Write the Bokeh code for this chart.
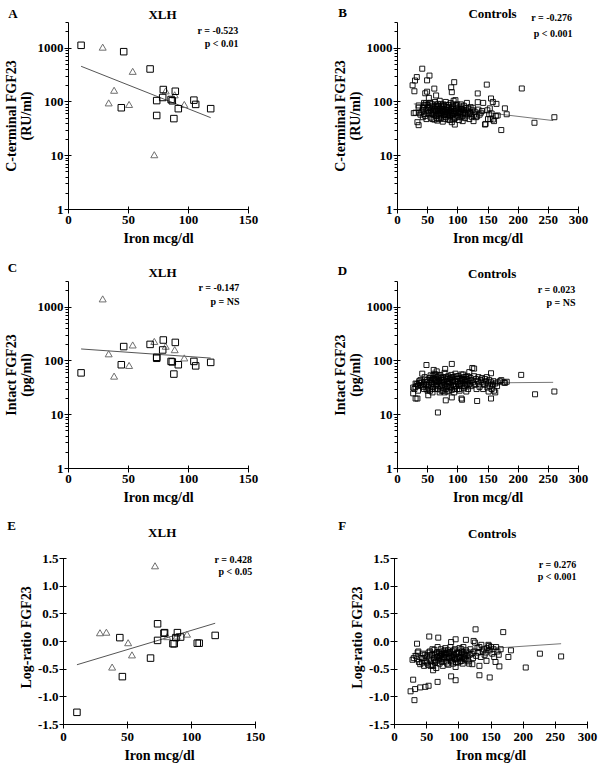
from bokeh.plotting import figure
from bokeh.layouts import column, row
from bokeh.models import Range1d, FixedTicker, Label, NumeralTickFormatter, BasicTickFormatter
from bokeh.embed import file_html
from bokeh.resources import INLINE

FONT = "Liberation Serif"

# ---------------- XLH patients (squares / triangles) ----------------
xlh_sq_iron = [10.5, 44, 46, 68, 73.5, 73.5, 78.5, 79, 85.5, 86.5, 87.8, 89, 91.5, 104.5, 106, 118.5]
xlh_sq_cterm = [1130, 78, 860, 410, 106, 56, 121, 170, 111, 105, 49, 158, 75, 108, 90, 75]
xlh_sq_intact = [60, 85, 185, 203, 112, 117, 160, 245, 98, 96, 57, 221, 85, 98, 81, 94]
xlh_sq_ratio = [-1.28, 0.07, -0.635, -0.30, 0.02, 0.32, 0.15, 0.16, -0.04, -0.04, 0.07, 0.16, 0.08, -0.03, -0.03, 0.11]

xlh_tr_iron = [28.5, 33.5, 38, 50.5, 53.5, 71.5, 81, 88.5, 96.5]
xlh_tr_cterm = [1000, 92, 158, 86, 355, 10, 154, 130, 86]
xlh_tr_intact = [1365, 130, 50, 79, 190, 221, 180, 155, 109]
xlh_tr_ratio = [0.14, 0.15, -0.48, -0.04, -0.26, 1.35, 0.07, 0.08, 0.115]

# ---------------- regression lines (end points) ----------------
fit_a_x, fit_a_y = [10.5, 118.5], [460, 51]
fit_c_x, fit_c_y = [10.5, 118.5], [167, 113]
fit_e_x, fit_e_y = [10.5, 118.5], [-0.42, 0.33]
fit_b_x, fit_b_y = [27, 258], [92, 45]
fit_d_x, fit_d_y = [27, 258], [38, 40]
fit_f_x, fit_f_y = [27, 259], [-0.22, -0.04]

# ---------------- controls (iron, value) ----------------
controls_cterm = [
    (41, 415), (32, 290), (53, 309), (29, 250), (49, 252), (25, 204), (28, 158), (61, 177), (46, 145),
    (49, 155), (89, 187), (94, 233), (90, 152), (64, 132), (148, 210), (133, 144), (155, 116), (158, 100),
    (206, 178), (178, 76), (181, 59), (172, 30), (227, 41), (260, 52), (164, 92), (142, 96), (153, 76),
    (140, 68), (152, 59), (163, 55), (154, 48), (160, 44), (146, 39),
    (33, 42), (35, 37), (30, 63), (36, 63), (35, 86), (44, 96), (42, 78), (27, 62),
    (45, 88), (47, 94), (50, 78), (52, 119), (53, 67), (54, 96), (55, 51), (57, 59), (58, 85), (60, 72),
    (61, 47), (62, 100), (63, 64), (64, 55), (65, 82), (66, 45), (67, 92), (68, 70), (69, 58), (70, 105),
    (71, 62), (72, 50), (73, 80), (74, 68), (75, 43), (76, 90), (77, 57), (78, 73), (79, 65), (80, 100),
    (81, 52), (82, 78), (83, 60), (84, 47), (85, 88), (86, 70), (87, 55), (88, 95), (89, 64), (90, 42),
    (91, 80), (92, 58), (93, 105), (94, 68), (95, 50), (95, 38), (96, 108), (97, 75), (98, 62), (99, 90),
    (100, 54), (101, 70), (102, 46), (103, 82), (104, 60), (105, 66), (106, 52), (107, 74), (108, 44),
    (109, 58), (110, 85), (111, 64), (112, 50), (113, 70), (115, 96), (116, 56), (118, 75), (119, 48),
    (120, 62), (121, 80), (123, 53), (125, 78), (126, 44), (128, 66), (130, 52), (132, 54), (133, 99),
    (134, 72), (136, 58), (138, 63), (145, 38), (149, 70), (150, 48), (156, 61), (158, 47), (166, 56),
    (42, 70), (44, 60), (46, 55), (48, 72), (50, 88), (51, 62), (53, 80), (55, 70), (56, 62), (57, 92),
    (58, 48), (59, 66), (60, 58), (62, 76), (63, 86), (64, 68), (65, 50), (66, 74), (67, 60), (68, 84),
    (69, 48), (70, 66), (71, 76), (72, 90), (73, 56), (74, 62), (75, 74), (76, 66), (77, 84), (78, 48),
    (79, 58), (80, 70), (81, 88), (82, 64), (83, 72), (84, 56), (85, 62), (86, 80), (87, 46), (88, 68),
    (89, 74), (90, 56), (91, 62), (92, 90), (93, 48), (94, 60), (96, 66), (97, 86), (98, 52), (100, 78),
    (101, 62), (103, 66), (105, 90), (106, 74), (108, 62), (110, 70), (112, 60), (114, 78), (117, 66),
    (122, 60), (124, 70), (127, 58), (35, 78), (38, 58), (40, 66), (42, 52), (44, 82), (48, 48),
]

controls_intact = [
    (48, 84), (90, 88), (79, 71), (124, 74), (127, 72), (155, 59), (205, 55), (228, 24), (260, 27),
    (172, 44), (181, 41), (67, 11), (80, 18.5), (132, 18), (155, 20), (106, 20), (107, 19), (90, 21),
    (26, 25), (30, 20), (33, 20), (51, 23), (26, 32), (162, 26), (165, 34), (149, 32), (36, 39),
    (41, 58), (60, 68), (65, 64), (55, 54),
    (28, 30), (30, 33), (32, 37), (34, 35), (36, 42), (38, 36), (40, 40), (42, 33), (44, 38), (46, 45),
    (48, 30), (50, 41), (52, 36), (53, 48), (54, 28), (56, 44), (57, 38), (58, 52), (59, 33), (60, 46),
    (61, 40), (62, 30), (63, 56), (64, 43), (65, 36), (66, 50), (67, 30), (68, 41), (69, 47), (70, 34),
    (71, 55), (72, 38), (73, 28), (74, 44), (75, 50), (76, 32), (77, 40), (78, 60), (79, 36), (80, 30),
    (81, 46), (82, 42), (83, 27), (84, 52), (85, 38), (86, 33), (87, 48), (88, 40), (89, 55), (90, 29),
    (91, 44), (92, 36), (93, 50), (94, 26), (95, 42), (96, 58), (97, 34), (98, 46), (99, 30), (100, 40),
    (101, 52), (102, 36), (103, 28), (104, 48), (105, 42), (106, 34), (107, 46), (108, 38), (109, 56),
    (110, 31), (111, 44), (112, 40), (113, 50), (114, 27), (115, 36), (116, 45), (117, 30), (118, 42),
    (119, 62), (120, 38), (121, 48), (122, 34), (123, 44), (125, 40), (127, 52), (128, 36), (130, 46),
    (131, 30), (133, 42), (134, 50), (135, 38), (136, 33), (138, 44), (140, 48), (141, 40), (142, 30),
    (144, 36), (145, 46), (147, 42), (148, 50), (150, 38), (151, 27), (152, 44), (153, 34), (155, 40),
    (156, 30), (158, 36), (159, 42), (160, 28), (162, 38), (166, 40), (170, 42), (176, 40), (178, 39),
    (45, 50), (47, 36), (49, 44), (51, 32), (55, 40), (57, 30), (59, 48), (61, 58), (62, 44), (64, 34),
    (66, 40), (68, 54), (70, 42), (72, 48), (74, 36), (76, 44), (78, 26), (80, 50), (82, 34), (84, 40),
    (86, 46), (88, 32), (90, 50), (92, 42), (94, 34), (96, 40), (98, 52), (100, 46), (102, 30), (104, 38),
    (106, 56), (108, 44), (110, 50), (112, 34), (114, 46), (116, 52), (118, 36), (58, 26), (50, 28),
    (44, 30), (38, 44), (34, 28), (30, 38), (40, 35), (70, 26), (85, 28), (95, 30), (75, 28),
]

controls_ratio = [
    (126, 0.22), (54, 0.09), (68, 0.07), (35, -0.04), (95, 0.04), (88, -0.01), (111, 0.03), (123, 0.01),
    (169, 0.17), (28, -0.33), (29, -0.69), (25, -0.90), (32, -0.86), (40, -0.83), (48, -0.82), (53, -0.80),
    (67, -0.73), (88, -0.63), (95, -0.70), (132, -0.61), (148, -0.65), (31, -1.06), (60, -0.52),
    (177, -0.28), (181, -0.16), (204, -0.47), (226, -0.22), (259, -0.27), (163, -0.45), (157, -0.37),
    (132, -0.44), (143, -0.35), (147, -0.08), (121, -0.41), (116, -0.40),
    (30, -0.30), (33, -0.26), (36, -0.20), (38, -0.37), (40, -0.41), (42, -0.30), (44, -0.22), (46, -0.44),
    (48, -0.35), (50, -0.27), (52, -0.42), (54, -0.31), (55, -0.18), (57, -0.36), (58, -0.24), (60, -0.44),
    (61, -0.30), (62, -0.15), (63, -0.38), (64, -0.22), (65, -0.48), (66, -0.28), (67, -0.10), (68, -0.34),
    (69, -0.20), (70, -0.40), (71, -0.26), (72, -0.14), (73, -0.32), (74, -0.22), (75, -0.44), (76, -0.18),
    (77, -0.30), (78, -0.24), (79, -0.12), (80, -0.36), (81, -0.20), (82, -0.28), (83, -0.16), (84, -0.42),
    (85, -0.22), (86, -0.30), (87, -0.10), (88, -0.26), (89, -0.34), (90, -0.18), (91, -0.40), (92, -0.24),
    (93, -0.30), (94, -0.14), (95, -0.46), (96, -0.22), (97, -0.32), (98, -0.27), (99, -0.38), (100, -0.20),
    (101, -0.12), (102, -0.30), (103, -0.24), (104, -0.35), (105, -0.18), (106, -0.28), (107, -0.10),
    (108, -0.22), (110, -0.32), (111, -0.16), (112, -0.26), (114, -0.20), (115, -0.36), (117, -0.24),
    (118, -0.14), (120, -0.22), (122, -0.30), (124, -0.18), (125, -0.02), (127, -0.26), (129, -0.12),
    (130, -0.20), (132, -0.10), (134, -0.28), (135, -0.06), (137, -0.18), (139, -0.14), (140, -0.24),
    (142, -0.20), (144, -0.12), (146, -0.06), (148, -0.16), (150, -0.10), (152, -0.22), (154, -0.14),
    (155, -0.28), (158, -0.10), (160, -0.18), (162, -0.24), (165, -0.14),
    (45, -0.30), (50, -0.38), (55, -0.25), (58, -0.42), (62, -0.33), (66, -0.20), (70, -0.30), (72, -0.25),
    (74, -0.37), (76, -0.28), (78, -0.16), (80, -0.22), (82, -0.40), (84, -0.30), (86, -0.20), (88, -0.36),
    (90, -0.28), (92, -0.16), (94, -0.32), (96, -0.38), (98, -0.20), (100, -0.28), (102, -0.36),
    (104, -0.14), (106, -0.40), (108, -0.30), (110, -0.24), (112, -0.34), (35, -0.32), (37, -0.18),
    (43, -0.38), (47, -0.24), (53, -0.20), (56, -0.44), (59, -0.14), (64, -0.36), (68, -0.26),
]

panel_letters = ["A", "B", "C", "D", "E", "F"]
panel_titles = ["XLH", "Controls", "XLH", "Controls", "XLH", "Controls"]
stats_r = ["r = -0.523", "r = -0.276", "r = -0.147", "r = 0.023", "r = 0.428", "r = 0.276"]
stats_p = ["p < 0.01", "p < 0.001", "p = NS", "p = NS", "p < 0.05", "p < 0.001"]
y_labels = ["C-terminal FGF23\n(RU/ml)", "C-terminal FGF23\n(RU/ml)", "Intact FGF23\n(pg/ml)",
            "Intact FGF23\n(pg/ml)", "Log-ratio FGF23", "Log-ratio FGF23"]
x_label = "Iron mcg/dl"
x_ticks_xlh = [0, 50, 100, 150]
x_ticks_ctrl = [0, 50, 100, 150, 200, 250, 300]
log_ticks = [1, 10, 100, 1000]
ratio_ticks = [-1.5, -1.0, -0.5, 0.0, 0.5, 1.0, 1.5]


def header(width, height, idx, lx, ly, tx, ty, stat=None):
    h = figure(width=width, height=height, x_range=Range1d(0, width), y_range=Range1d(height, 0),
               x_axis_location=None, y_axis_location=None, toolbar_location=None,
               output_backend="svg", min_border=0)
    h.outline_line_color = None
    h.grid.visible = False
    for txt, x, y in ((panel_letters[idx], lx, ly), (panel_titles[idx], tx, ty)):
        h.add_layout(Label(x=x, y=y, text=txt, text_font=FONT, text_font_style="bold",
                           text_font_size="13px", text_align="center", text_baseline="middle",
                           text_color="black"))
    if stat is not None:
        sx, sy = stat
        h.add_layout(Label(x=sx, y=sy, text=stats_r[idx], text_font=FONT, text_font_style="bold",
                           text_font_size="10px", text_align="right", text_baseline="middle",
                           text_color="black"))
    return h


def make_panel(idx, width, height, left, right, bottom, x_end, x_ticks, is_log, y_end,
               stat_dx, stat_items, x_standoff):
    common = dict(width=width, height=height, x_range=Range1d(0, x_end), output_backend="svg",
                  toolbar_location=None, min_border_left=left, min_border_right=right,
                  min_border_top=0, min_border_bottom=bottom)
    if is_log:
        p = figure(y_range=Range1d(1, y_end), y_axis_type="log", **common)
        minors = [m * 10 ** d for d in range(0, 4) for m in range(2, 10) if m * 10 ** d <= 3000]
        p.yaxis.ticker = FixedTicker(ticks=log_ticks, minor_ticks=minors)
        p.yaxis.formatter = BasicTickFormatter()
        p.yaxis.major_label_overrides = {t: str(t) for t in log_ticks}
        p.yaxis.bounds = (1, 3000)
        p.yaxis.axis_label_text_line_height = 1.0
    else:
        p = figure(y_range=Range1d(-1.5, y_end), **common)
        p.yaxis.ticker = FixedTicker(ticks=ratio_ticks, minor_ticks=[])
        p.yaxis.formatter = NumeralTickFormatter(format="0.0")
        p.yaxis.bounds = (-1.5, 1.5)
    p.xaxis.ticker = FixedTicker(ticks=x_ticks, minor_ticks=[])
    p.outline_line_color = None
    p.grid.visible = False
    for ax in (p.xaxis[0], p.yaxis[0]):
        ax.axis_line_color = "black"
        ax.major_tick_line_color = "black"
        ax.minor_tick_line_color = "black"
        ax.major_tick_out = 4
        ax.major_tick_in = 3
        ax.minor_tick_out = 3
        ax.minor_tick_in = 0
        ax.major_label_text_font = FONT
        ax.major_label_text_font_style = "bold"
        ax.major_label_text_font_size = "13px"
        ax.major_label_text_color = "black"
        ax.axis_label_text_font = FONT
        ax.axis_label_text_font_style = "bold"
        ax.axis_label_text_font_size = "14px"
        ax.axis_label_text_color = "black"
    p.yaxis.major_label_standoff = 1
    p.yaxis.axis_label_standoff = 1
    p.xaxis.major_label_standoff = x_standoff
    p.xaxis.axis_label_standoff = 4
    p.xaxis.axis_label = x_label
    p.yaxis.axis_label = y_labels[idx]
    for txt, dy in stat_items:
        p.add_layout(Label(x=x_end, y=y_end, x_offset=stat_dx, y_offset=dy, text=txt,
                           text_font=FONT, text_font_style="bold", text_font_size="10px",
                           text_align="right", text_baseline="middle", text_color="black"))
    return p


def add_xlh(p, y_sq, y_tr, fx, fy):
    p.line(fx, fy, line_color="#555555", line_width=1)
    p.scatter(xlh_tr_iron, y_tr, marker="triangle", size=7, fill_color=None,
              line_color="#6e6e6e", line_width=1)
    p.scatter(xlh_sq_iron, y_sq, marker="square", size=6.5, fill_color=None,
              line_color="black", line_width=1)


def add_ctrl(p, pts, fx, fy):
    xs = [a for a, b in pts]
    ys = [b for a, b in pts]
    p.line(fx, fy, line_color="#777777", line_width=1)
    p.scatter(xs, ys, marker="square", size=5, fill_color=None, line_color="black", line_width=0.9)


WL, WR = 302, 300
RATIO_TOP = 1.6446  # frame extends 8 px above the 1.5 tick so the stats fit

hA = header(WL, 22, 0, 12.5, 13, 162, 14)
hB = header(WR, 22, 1, 40, 12, 190, 13, stat=(269.7, 17))
pA = make_panel(0, WL, 228, 67, 54, 41, 150, x_ticks_xlh, True, 3000, -10,
                [(stats_r[0], -8), (stats_p[0], -21)], 2)
add_xlh(pA, xlh_sq_cterm, xlh_tr_cterm, fit_a_x, fit_a_y)
pB = make_panel(1, WR, 228, 95, 24, 41, 300, x_ticks_ctrl, True, 3000, -6,
                [(stats_p[1], -11)], 2)
add_ctrl(pB, controls_cterm, fit_b_x, fit_b_y)

hC = header(WL, 31, 2, 12, 16.7, 162, 21.7)
hD = header(WR, 31, 3, 40, 20, 189.7, 22.7)
pC = make_panel(2, WL, 229, 67, 54, 42, 150, x_ticks_xlh, True, 3000, -9,
                [(stats_r[2], -6.3), (stats_p[2], -19.7)], 2)
add_xlh(pC, xlh_sq_intact, xlh_tr_intact, fit_c_x, fit_c_y)
pD = make_panel(3, WR, 229, 95, 24, 42, 300, x_ticks_ctrl, True, 3000, -3,
                [(stats_r[3], -8), (stats_p[3], -20.7)], 2)
add_ctrl(pD, controls_intact, fit_d_x, fit_d_y)

hE = header(WL, 40, 4, 11, 15, 161.7, 21.7)
hF = header(WR, 40, 5, 39.7, 15, 189.7, 22.7)
pE = make_panel(4, WL, 219, 63, 47, 45, 150, x_ticks_xlh, False, RATIO_TOP, -3.3,
                [(stats_r[4], -9.3), (stats_p[4], -21)], 4)
add_xlh(pE, xlh_sq_ratio, xlh_tr_ratio, fit_e_x, fit_e_y)
pF = make_panel(5, WR, 219, 92, 15, 45, 300, x_ticks_ctrl, False, RATIO_TOP, -11,
                [(stats_r[5], -14.3), (stats_p[5], -26)], 4)
add_ctrl(pF, controls_ratio, fit_f_x, fit_f_y)

layout = column(
    row(hA, hB), row(pA, pB),
    row(hC, hD), row(pC, pD),
    row(hE, hF), row(pE, pF),
)
open("out.html", "w").write(file_html(layout, INLINE))
